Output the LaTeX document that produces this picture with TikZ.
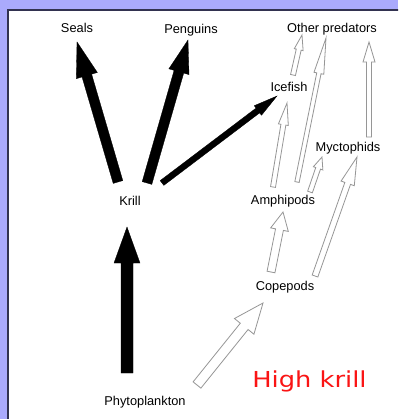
\documentclass[tikz,border=0pt]{standalone}
\usepackage{fontspec}
\setmainfont{Liberation Sans}
\newfontfamily\redfont{DejaVu Sans}
\usetikzlibrary{calc}
\definecolor{bgpurple}{RGB}{170,170,252}
\definecolor{framec}{RGB}{50,50,80}
\definecolor{outl}{RGB}{150,150,150}
\definecolor{hired}{RGB}{250,20,20}
% #1 style, #2 tail, #3 tip, #4 shaft half width, #5 head half width, #6 head length
\newcommand\fatarrow[6]{%
  \draw[#1] ($(#2)!#4!90:(#3)$) -- ($($(#3)!#6!(#2)$)!#4!90:(#3)$)
    -- ($($(#3)!#6!(#2)$)!#5!90:(#3)$) -- (#3)
    -- ($($(#3)!#6!(#2)$)!#5!-90:(#3)$) -- ($($(#3)!#6!(#2)$)!#4!-90:(#3)$)
    -- ($(#2)!#4!-90:(#3)$) -- cycle;}
\tikzset{
  lbl/.style={font=\fontsize{12.8}{14}\selectfont, inner sep=0pt, text=black},
  blackarr/.style={fill=black, draw=black, line width=0.3pt, line join=miter},
  whitearr/.style={fill=white, draw=outl, line width=0.8pt, line join=miter},
}
\begin{document}
\begin{tikzpicture}[x=1pt, y=-1pt]
\useasboundingbox (0,0) rectangle (398,419);
\clip (0,0) rectangle (398,419);
\fill[bgpurple] (0,0) rectangle (398,419);
\draw[fill=white, draw=framec, line width=1.5pt] (8,10) rectangle (410,430);

% labels
\node[lbl] (seals) at (77,28) {Seals};
\node[lbl] (penguins) at (191,30) {Penguins};
\node[lbl] (other) at (332,29) {Other predators};
\node[lbl] (icefish) at (289,87) {Icefish};
\node[lbl] (myct) at (348,148) {Myctophids};
\node[lbl] (krill) at (130,201) {Krill};
\node[lbl] (amphi) at (283,201) {Amphipods};
\node[lbl] (cope) at (285,287) {Copepods};
\node[lbl] (phyto) at (145,402) {Phytoplankton};
\node[inner sep=0pt, text=hired] (high) at (309.5,381) {\scalebox{1.17}[1]{\redfont\fontsize{22}{24}\selectfont High krill}};

% arrow end points
\coordinate (kS) at (118,182);
\coordinate (sK) at (77,42);
\coordinate (kP) at (147,183);
\coordinate (pK) at (188,40);
\coordinate (kI) at (162,183);
\coordinate (iK) at (277,96);
\coordinate (phK) at (127,373);
\coordinate (kPh) at (127,227);
\coordinate (phC) at (197,385);
\coordinate (cPh) at (263,303);
\coordinate (cA) at (271,272);
\coordinate (aC) at (283,212);
\coordinate (cM) at (315,276);
\coordinate (mC) at (357,157);
\coordinate (aM) at (310,192);
\coordinate (mA) at (322,157);
\coordinate (aI) at (273,187);
\coordinate (iA) at (287,103);
\coordinate (aO) at (297,182);
\coordinate (oA) at (326,38);
\coordinate (iO) at (293,75);
\coordinate (oI) at (302,35);
\coordinate (mO) at (369,137);
\coordinate (oM) at (369,42);

% black arrows (krill pathway)
\fatarrow{blackarr}{kS}{sK}{5pt}{11pt}{35pt}
\fatarrow{blackarr}{kP}{pK}{5pt}{10.5pt}{33pt}
\fatarrow{blackarr}{kI}{iK}{3pt}{6pt}{24pt}
\fatarrow{blackarr}{phK}{kPh}{6pt}{13pt}{36pt}

% white arrows (alternative pathway)
\fatarrow{whitearr}{phC}{cPh}{5pt}{12.5pt}{30pt}
\fatarrow{whitearr}{cA}{aC}{4pt}{9pt}{18pt}
\fatarrow{whitearr}{cM}{mC}{3pt}{7pt}{28pt}
\fatarrow{whitearr}{aM}{mA}{2.5pt}{5pt}{12pt}
\fatarrow{whitearr}{aI}{iA}{2.5pt}{5pt}{22pt}
\fatarrow{whitearr}{aO}{oA}{2.2pt}{5pt}{36pt}
\fatarrow{whitearr}{iO}{oI}{2.5pt}{4.5pt}{15pt}
\fatarrow{whitearr}{mO}{oM}{2.5pt}{6pt}{20pt}
\end{tikzpicture}
\end{document}
